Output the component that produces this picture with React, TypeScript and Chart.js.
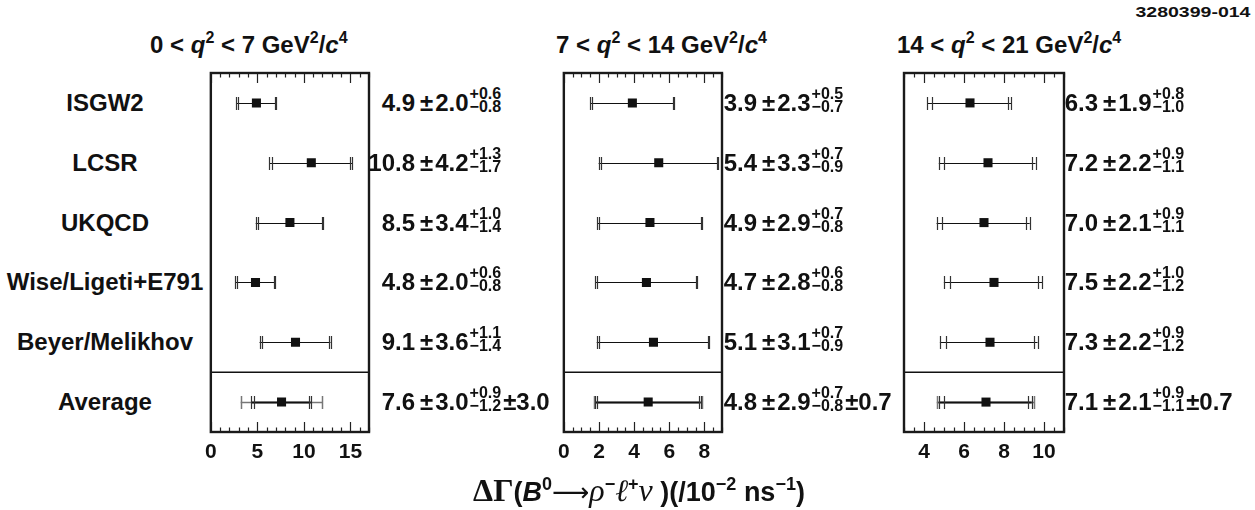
import React, { useEffect, useRef } from "react";
import { Chart, registerables } from "chart.js";

Chart.register(...registerables);

// ---------- data ----------
const models = ["ISGW2", "LCSR", "UKQCD", "Wise/Ligeti+E791", "Beyer/Melikhov", "Average"];

const q2Low = [0, 7, 14];
const q2High = [7, 14, 21];

// panel 1: 0 < q2 < 7
const p1Value = [4.9, 10.8, 8.5, 4.8, 9.1, 7.6];
const p1Stat = [2.0, 4.2, 3.4, 2.0, 3.6, 3.0];
const p1SysUp = [0.6, 1.3, 1.0, 0.6, 1.1, 0.9];
const p1SysDn = [0.8, 1.7, 1.4, 0.8, 1.4, 1.2];
const p1Model = 3.0;

// panel 2: 7 < q2 < 14
const p2Value = [3.9, 5.4, 4.9, 4.7, 5.1, 4.8];
const p2Stat = [2.3, 3.3, 2.9, 2.8, 3.1, 2.9];
const p2SysUp = [0.5, 0.7, 0.7, 0.6, 0.7, 0.7];
const p2SysDn = [0.7, 0.9, 0.8, 0.8, 0.9, 0.8];
const p2Model = 0.7;

// panel 3: 14 < q2 < 21
const p3Value = [6.3, 7.2, 7.0, 7.5, 7.3, 7.1];
const p3Stat = [1.9, 2.2, 2.1, 2.2, 2.2, 2.1];
const p3SysUp = [0.8, 0.9, 0.9, 1.0, 0.9, 0.9];
const p3SysDn = [1.0, 1.1, 1.1, 1.2, 1.2, 1.1];
const p3Model = 0.7;

// axes
const p1Ticks = [0, 5, 10, 15];
const p2Ticks = [0, 2, 4, 6, 8];
const p3Ticks = [4, 6, 8, 10];
const p1Range = [0, 17];
const p2Range = [0, 9];
const p3Range = [3, 11];
const p1Minor = 1;
const p2Minor = 0.5;
const p3Minor = 0.5;

const figureId = "3280399-014";

// ---------- layout ----------
const W = 1255;
const H = 510;
const BOX_TOP = 73;
const BOX_BOTTOM = 432;
const BOX_W = 160;
const PAD = 12;
const AXIS_H = 45;

type Panel = {
  value: number[];
  stat: number[];
  up: number[];
  dn: number[];
  model: number;
  ticks: number[];
  range: number[];
  minor: number;
  left: number;
  anchor: number;
  titleLeft: number;
};

const panels: Panel[] = [
  { value: p1Value, stat: p1Stat, up: p1SysUp, dn: p1SysDn, model: p1Model, ticks: p1Ticks, range: p1Range, minor: p1Minor, left: 209, anchor: 420, titleLeft: 150 },
  { value: p2Value, stat: p2Stat, up: p2SysUp, dn: p2SysDn, model: p2Model, ticks: p2Ticks, range: p2Range, minor: p2Minor, left: 562, anchor: 762, titleLeft: 556 },
  { value: p3Value, stat: p3Stat, up: p3SysUp, dn: p3SysDn, model: p3Model, ticks: p3Ticks, range: p3Range, minor: p3Minor, left: 904, anchor: 1103, titleLeft: 897 },
];

const SANS = '"Liberation Sans", Arial, Helvetica, sans-serif';
const SERIF = '"Liberation Serif", "DejaVu Serif", "Times New Roman", serif';
const INK = "#111";
const FS = 24;

function PanelChart({ p }: { p: Panel }) {
  const ref = useRef<HTMLCanvasElement | null>(null);
  useEffect(() => {
    const canvas = ref.current;
    if (!canvas) return;
    const nRows = p.value.length;
    const errPlugin = {
      id: "errbars",
      beforeDatasetsDraw(chart: any) {
        const { ctx, chartArea: a, scales } = chart;
        const x = scales.x;
        const y = scales.y;
        ctx.save();
        for (let i = 0; i < nRows; i++) {
          const v = p.value[i];
          const yy = Math.round(y.getPixelForValue(i)) + 0.5;
          const lo1 = v - p.stat[i];
          const hi1 = v + p.stat[i];
          const loT = v - Math.sqrt(p.stat[i] ** 2 + p.dn[i] ** 2);
          const hiT = v + Math.sqrt(p.stat[i] ** 2 + p.up[i] ** 2);
          const isAvg = i === nRows - 1;
          if (isAvg) {
            const loM = v - Math.sqrt(p.stat[i] ** 2 + p.dn[i] ** 2 + p.model ** 2);
            const hiM = v + Math.sqrt(p.stat[i] ** 2 + p.up[i] ** 2 + p.model ** 2);
            ctx.strokeStyle = "#777";
            ctx.lineWidth = 1.5;
            ctx.beginPath();
            ctx.moveTo(x.getPixelForValue(loM), yy);
            ctx.lineTo(x.getPixelForValue(hiM), yy);
            for (const c of [loM, hiM]) {
              const cx = Math.round(x.getPixelForValue(c)) + 0.5;
              ctx.moveTo(cx, yy - 6.5);
              ctx.lineTo(cx, yy + 6.5);
            }
            ctx.stroke();
          }
          ctx.strokeStyle = INK;
          ctx.lineWidth = isAvg ? 2 : 1.2;
          ctx.beginPath();
          ctx.moveTo(x.getPixelForValue(loT), yy);
          ctx.lineTo(x.getPixelForValue(hiT), yy);
          ctx.stroke();
          ctx.lineWidth = 1.2;
          ctx.strokeStyle = "#333";
          ctx.beginPath();
          for (const c of [lo1, hi1, loT, hiT]) {
            const cx = Math.round(x.getPixelForValue(c)) + 0.5;
            ctx.moveTo(cx, yy - 6.5);
            ctx.lineTo(cx, yy + 6.5);
          }
          ctx.stroke();
        }
        // separator above the average
        const sy = y.getPixelForValue(nRows - 1.5);
        ctx.strokeStyle = INK;
        ctx.lineWidth = 1.5;
        ctx.beginPath();
        ctx.moveTo(a.left, sy);
        ctx.lineTo(a.right, sy);
        ctx.stroke();
        // tick marks (inside, top and bottom)
        ctx.lineWidth = 1.2;
        ctx.strokeStyle = "#222";
        ctx.beginPath();
        const [mn, mx] = p.range;
        const nMinor = Math.round((mx - mn) / p.minor);
        for (let k = 0; k <= nMinor; k++) {
          const t = mn + k * p.minor;
          const isMajor = p.ticks.some((m) => Math.abs(m - t) < 1e-6);
          const len = isMajor ? 10 : 4.5;
          const tx = Math.round(x.getPixelForValue(t)) + 0.5;
          ctx.moveTo(tx, a.top);
          ctx.lineTo(tx, a.top + len);
          ctx.moveTo(tx, a.bottom);
          ctx.lineTo(tx, a.bottom - len);
        }
        ctx.stroke();
        // frame
        ctx.lineWidth = 2.4;
        ctx.strokeStyle = "#1a1a1a";
        ctx.strokeRect(a.left, a.top, a.right - a.left, a.bottom - a.top);
        ctx.restore();
      },
    };

    const chart = new Chart(canvas, {
      type: "scatter",
      data: {
        datasets: [
          {
            data: p.value.map((v, i) => ({ x: v, y: i })),
            pointStyle: "rect",
            pointRadius: 6.4,
            pointBackgroundColor: INK,
            pointBorderWidth: 0,
            borderWidth: 0,
          },
        ],
      },
      options: {
        animation: false,
        responsive: false,
        devicePixelRatio: 1,
        events: [],
        layout: { padding: { left: PAD, right: PAD, top: PAD, bottom: 0 } },
        plugins: { legend: { display: false }, tooltip: { enabled: false } },
        scales: {
          x: {
            type: "linear",
            min: p.range[0],
            max: p.range[1],
            afterBuildTicks: (s: any) => {
              s.ticks = p.ticks.map((v) => ({ value: v }));
            },
            afterFit: (s: any) => {
              s.height = AXIS_H;
            },
            grid: { display: false, drawTicks: false },
            border: { display: false },
            ticks: {
              autoSkip: false,
              maxRotation: 0,
              padding: 8,
              color: INK,
              font: { family: SANS, weight: "bold", size: 21 },
            },
          },
          y: {
            type: "linear",
            min: -0.5,
            max: p.value.length - 0.5,
            reverse: true,
            display: false,
          },
        },
      },
      plugins: [errPlugin],
    } as any);
    return () => chart.destroy();
  }, [p]);

  const cw = BOX_W + 2 * PAD;
  const ch = BOX_BOTTOM - (BOX_TOP - PAD) + AXIS_H;
  return (
    <canvas
      ref={ref}
      width={cw}
      height={ch}
      style={{ position: "absolute", left: p.left - PAD, top: BOX_TOP - PAD, width: cw, height: ch }}
    />
  );
}

const supStyle: React.CSSProperties = { fontSize: 16, position: "relative", top: -10, lineHeight: 0 };
const xSupStyle: React.CSSProperties = { fontSize: 18, position: "relative", top: -11, lineHeight: 0 };

function ValueLabel({ p, i, rowY }: { p: Panel; i: number; rowY: number }) {
  const isAvg = i === p.value.length - 1;
  return (
    <>
      <div
        style={{
          position: "absolute",
          right: W - (p.anchor - 5),
          top: rowY - 14,
          lineHeight: "28px",
          fontSize: FS,
          whiteSpace: "nowrap",
        }}
      >
        {p.value[i].toFixed(1)}
      </div>
      <div
        style={{
          position: "absolute",
          left: p.anchor,
          top: rowY - 14,
          height: 28,
          lineHeight: "28px",
          fontSize: FS,
          whiteSpace: "nowrap",
          display: "flex",
          alignItems: "center",
        }}
      >
        <span>±</span>
        <span style={{ marginLeft: 2 }}>{p.stat[i].toFixed(1)}</span>
        <span
          style={{
            display: "inline-flex",
            flexDirection: "column",
            fontSize: 16,
            lineHeight: "13px",
            marginLeft: 1,
            transform: "translateY(-3px)",
          }}
        >
          <span>+{p.up[i].toFixed(1)}</span>
          <span>−{p.dn[i].toFixed(1)}</span>
        </span>
        {isAvg && <span style={{ marginLeft: 2 }}>±{p.model.toFixed(1)}</span>}
      </div>
    </>
  );
}

export default function App() {
  const rowH = (BOX_BOTTOM - BOX_TOP) / models.length;
  const rowYs = models.map((_, i) => BOX_TOP + (i + 0.5) * rowH);
  return (
    <div
      style={{
        position: "absolute",
        left: 0,
        top: 0,
        width: W,
        height: H,
        background: "#fff",
        fontFamily: SANS,
        fontWeight: "bold",
        color: INK,
        overflow: "hidden",
      }}
    >
      <div
        style={{
          position: "absolute",
          right: 5,
          top: 3,
          fontSize: 15,
          lineHeight: "18px",
          transform: "scaleX(1.3)",
          transformOrigin: "right center",
        }}
      >
        {figureId}
      </div>

      {panels.map((p, k) => (
        <div
          key={"t" + k}
          style={{ position: "absolute", left: p.titleLeft, top: 31, fontSize: FS, lineHeight: "28px", whiteSpace: "nowrap" }}
        >
          {q2Low[k]} &lt; <i>q</i>
          <span style={supStyle}>2</span> &lt; {q2High[k]} GeV<span style={supStyle}>2</span>/<i>c</i>
          <span style={supStyle}>4</span>
        </div>
      ))}

      {models.map((m, i) => (
        <div
          key={"m" + i}
          style={{
            position: "absolute",
            left: 0,
            width: 210,
            textAlign: "center",
            top: rowYs[i] - 14,
            lineHeight: "28px",
            fontSize: FS,
            whiteSpace: "nowrap",
          }}
        >
          {m}
        </div>
      ))}

      {panels.map((p, k) => (
        <PanelChart key={"c" + k} p={p} />
      ))}

      {panels.map((p, k) =>
        models.map((_, i) => <ValueLabel key={"v" + k + "_" + i} p={p} i={i} rowY={rowYs[i]} />)
      )}

      <div
        style={{
          position: "absolute",
          left: 0,
          width: 1278,
          textAlign: "center",
          top: 474,
          lineHeight: "32px",
          fontSize: 27,
          whiteSpace: "nowrap",
        }}
      >
        <span style={{ fontFamily: SERIF, fontWeight: "bold", fontSize: 32 }}>ΔΓ</span>(<i>B</i>
        <span style={xSupStyle}>0</span>
        <span style={{ fontFamily: '"DejaVu Sans", sans-serif', fontWeight: "normal", fontSize: 26 }}>⟶</span>
        <span style={{ fontFamily: SERIF, fontStyle: "italic", fontWeight: "normal", fontSize: 32 }}>ρ</span>
        <span style={xSupStyle}>−</span>
        <span style={{ fontFamily: SERIF, fontStyle: "italic", fontWeight: "normal", fontSize: 31 }}>ℓ</span>
        <span style={xSupStyle}>+</span>
        <span style={{ fontFamily: SERIF, fontStyle: "italic", fontWeight: "normal", fontSize: 32 }}>ν</span>
        {" )(/10"}
        <span style={xSupStyle}>−2</span> ns<span style={xSupStyle}>−1</span>)
      </div>
    </div>
  );
}
